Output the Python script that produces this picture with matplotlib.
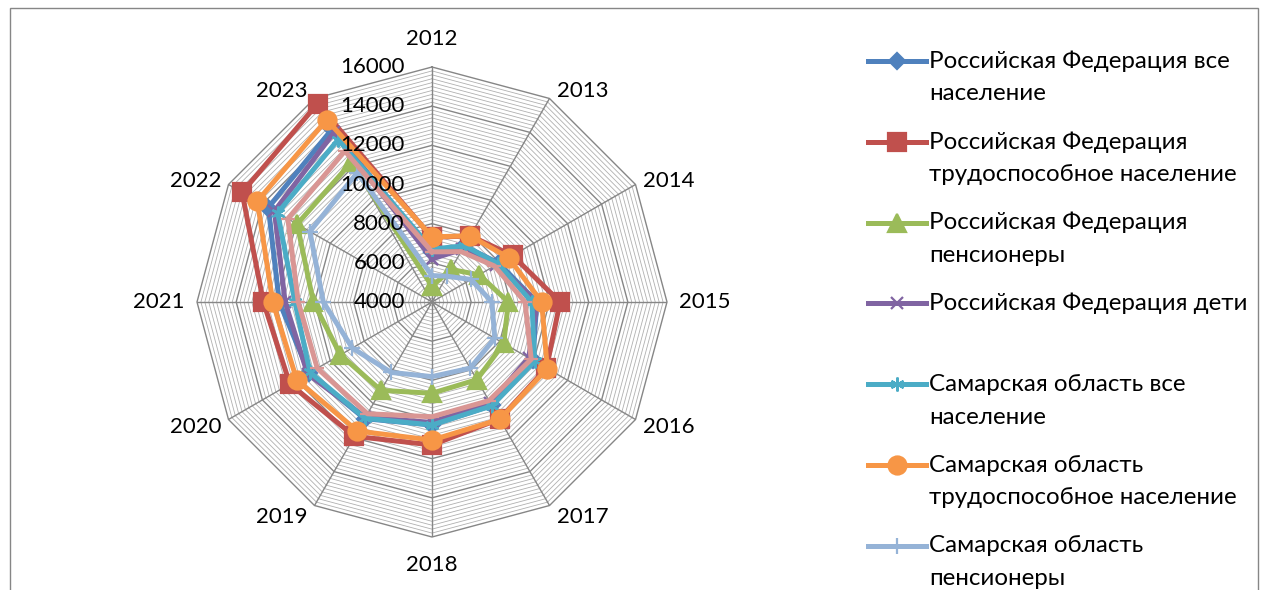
import numpy as np
import matplotlib.pyplot as plt
from matplotlib.lines import Line2D
from matplotlib.patches import Rectangle
from matplotlib.transforms import offset_copy

plt.rcParams["font.family"] = ["Lato", "DejaVu Sans"]

years = ["2012", "2013", "2014", "2015", "2016", "2017",
         "2018", "2019", "2020", "2021", "2022", "2023"]

rf_all     = [6550, 7300, 7950, 9350, 9950, 10100, 10280, 10880, 11250, 11800, 13650, 14200]
rf_work    = [7300, 7900, 8750, 10540, 10750, 10900, 11300, 11920, 12380, 12610, 15200, 15690]
rf_pens    = [4800, 5920, 6780, 7900, 8230, 8580, 8660, 9210, 9400, 10060, 11950, 12240]
rf_kids    = [6200, 7100, 7800, 9380, 9700, 9950, 10150, 10800, 11340, 11500, 13290, 14000]
sam_all    = [6700, 7320, 7900, 9100, 10050, 10120, 10280, 10850, 11190, 11000, 13100, 13580]
sam_work   = [7330, 7900, 8520, 9600, 10800, 10920, 11050, 11610, 11970, 12130, 14300, 14750]
sam_pens   = [5350, 5520, 6300, 7060, 7700, 7900, 7810, 8155, 8700, 9550, 11200, 11630]
sam_kids   = [6560, 6970, 7680, 8750, 9850, 9815, 9860, 10590, 10765, 10830, 12500, 12900]

series_names = [
    "Российская Федерация все\nнаселение",
    "Российская Федерация\nтрудоспособное население",
    "Российская Федерация\nпенсионеры",
    "Российская Федерация дети",
    "Самарская область все\nнаселение",
    "Самарская область\nтрудоспособное население",
    "Самарская область\nпенсионеры",
    "Самарская область дети",
]
series_values = [rf_all, rf_work, rf_pens, rf_kids, sam_all, sam_work, sam_pens, sam_kids]

r_ticks = [4000, 6000, 8000, 10000, 12000, 14000, 16000]

colors  = ["#4F81BD", "#C0504D", "#9BBB59", "#8064A2",
           "#4BACC6", "#F79646", "#95B3D7", "#D99694"]
markers = ["D", "s", "^", "x", (6, 2, 0), "o", "+", "_"]
msizes  = [8, 13, 13, 9, 10, 13, 11, 10]

W, H = 1263, 590
CX, CY, R = 432, 302, 235

fig = plt.figure(figsize=(W / 100, H / 100), dpi=100)
fig.patch.set_facecolor("white")
ax = fig.add_axes([(CX - R) / W, (H - CY - R) / H, 2 * R / W, 2 * R / H],
                  projection="polar")
ax.set_theta_zero_location("N")
ax.set_theta_direction(-1)
ax.set_ylim(r_ticks[0], r_ticks[-1])
ax.set_xticks([])
ax.set_yticks([])
ax.grid(False)
ax.spines["polar"].set_visible(False)
ax.patch.set_alpha(0)

n = len(years)
angles = np.arange(n) * 2 * np.pi / n
closed = np.append(angles, angles[0])

# polygon gridlines: minor every 200, major every 2000
for lvl in np.arange(r_ticks[0] + 200, r_ticks[-1] + 1, 200):
    major = lvl % 2000 == 0
    ax.plot(closed, [lvl] * (n + 1),
            color="#868686" if major else "#b0b0b0",
            lw=1.0 if major else 0.6, zorder=1, clip_on=False)
for a in angles:
    ax.plot([a, a], [r_ticks[0], r_ticks[-1]], color="#868686", lw=1.0, zorder=1)

for vals, c, m, ms in zip(series_values, colors, markers, msizes):
    ax.plot(closed, vals + vals[:1], color=c, lw=3.6, marker=m, markersize=ms,
            markerfacecolor=c, markeredgecolor=c, markeredgewidth=1.6,
            zorder=3, clip_on=False)

# radial value labels, left of the vertical axis
lab_tr = offset_copy(ax.transData, fig=fig, x=-27, y=0, units="dots")
for v in r_ticks:
    ax.text(0, v, str(v), transform=lab_tr, ha="right", va="center",
            fontsize=16, color="black")

# category labels, pushed out from each outer vertex
for a, yr in zip(angles, years):
    s, c = np.sin(a), np.cos(a)
    if abs(s) < 1e-6:
        dx, dy = 0, 28 * np.sign(c)
    elif abs(c) < 1e-6:
        dx, dy = 38 * np.sign(s), 0
    else:
        dx, dy = 33 * np.sign(s), 11 * c - 2
    tr = offset_copy(ax.transData, fig=fig, x=dx, y=dy, units="dots")
    ax.text(a, r_ticks[-1], yr, transform=tr, ha="center", va="center",
            fontsize=16, clip_on=False)

# legend drawn by hand, Excel style (last entry falls below the crop)
for k, (name, c, m, ms) in enumerate(zip(series_names, colors, markers, msizes)):
    y = H - (61 + k * 80.8)
    fig.add_artist(Line2D([868 / W, 926 / W], [y / H, y / H], color=c, lw=3.6,
                          transform=fig.transFigure))
    fig.add_artist(Line2D([897 / W], [y / H], color=c, marker=m, markersize=ms,
                          markerfacecolor=c, markeredgecolor=c,
                          markeredgewidth=1.6, transform=fig.transFigure))
    for j, line in enumerate(name.split("\n")):
        fig.text(929 / W, (y - j * 33) / H, line, ha="left", va="center",
                 fontsize=17.4, color="black")

fig.add_artist(Rectangle((10 / W, -0.1), 1248 / W, (H - 8) / H + 0.1,
                         transform=fig.transFigure, fill=False,
                         edgecolor="#868686", lw=1.0))

fig.savefig("out.png", dpi=100, facecolor="white")
